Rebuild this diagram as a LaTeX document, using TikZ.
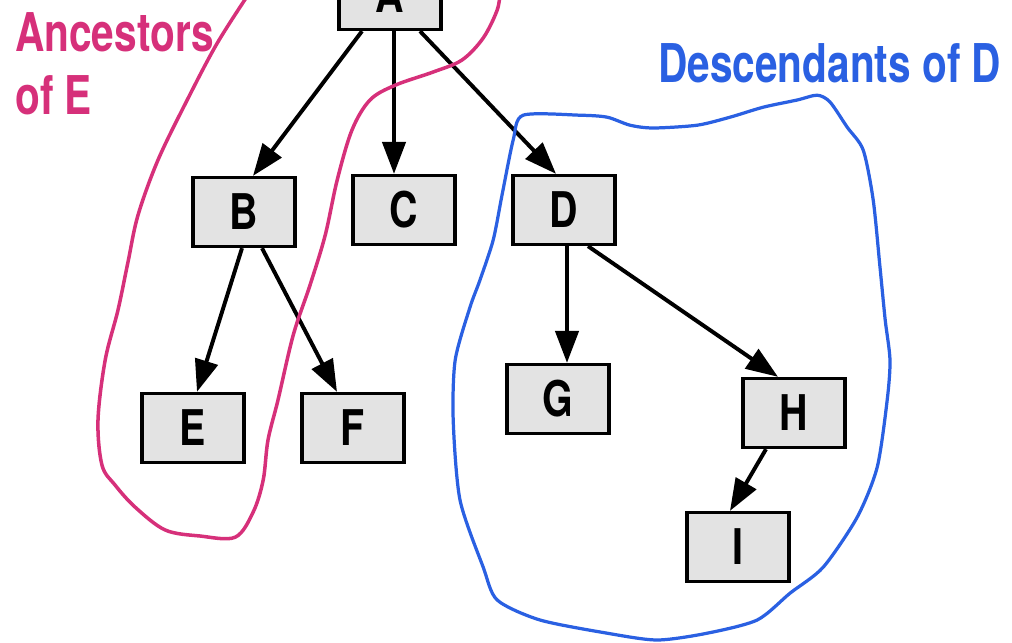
\documentclass[tikz,border=0pt]{standalone}
\usepackage{fontspec}
\usepackage{tikz}
\usepackage{xcolor}
\usetikzlibrary{positioning}
\usetikzlibrary{arrows.meta}
\newfontfamily\treefont{TeX Gyre Heros}[FakeStretch=0.8]
\newfontfamily\labelfont{TeX Gyre Heros}[FakeStretch=0.76]
\definecolor{nodegray}{RGB}{227,227,227}
\definecolor{ancestorpink}{RGB}{214,48,122}
\definecolor{descendantblue}{RGB}{42,96,226}
\tikzstyle{treenode} = [rectangle, minimum width=2.55cm, minimum height=1.72cm, text centered, line width=2.5pt, draw=black, fill=nodegray, font=\fontsize{35}{40}\treefont\bfseries]
\tikzstyle{arrow} = [line width=2.8pt, -{Triangle[length=0.8cm, width=0.58cm]}]
\tikzstyle{ancestorline} = [draw=ancestorpink, line width=2.5pt]
\tikzstyle{descendantline} = [draw=descendantblue, line width=2.3pt]
\tikzstyle{grouplabel} = [anchor=north west, inner sep=0pt, align=left, font=\fontsize{38}{45}\labelfont\bfseries]

\begin{document}
\begin{tikzpicture}[node distance=4cm]
        \useasboundingbox (0,0) rectangle (25.3,-16.075);
        \node (node_a) [treenode] at (9.75,0.125) {A};
        \node (node_b) [treenode, below of=node_a, yshift=-1.425cm, xshift=-3.65cm] {B};
        \node (node_c) [treenode, right of=node_b, yshift=0.05cm] {C};
        \node (node_d) [treenode, right of=node_c] {D};
        \node (node_e) [treenode, below of=node_b, yshift=-1.4cm, xshift=-1.275cm] {E};
        \node (node_f) [treenode, right of=node_e] {F};
        \node (node_g) [treenode, below of=node_d, yshift=-0.725cm, xshift=-0.15cm] {G};
        \node (node_h) [treenode, right of=node_g, yshift=-0.35cm, xshift=1.9cm] {H};
        \node (node_i) [treenode, below of=node_h, yshift=0.65cm, xshift=-1.4cm] {I};

        \draw [arrow] ([xshift=-0.7cm]node_a.south) -- ([xshift=0.225cm]node_b.north);
        \draw [arrow] ([xshift=0.1cm]node_a.south) -- ([xshift=-0.25cm]node_c.north);
        \draw [arrow] ([xshift=0.75cm]node_a.south) -- ([xshift=-0.2cm]node_d.north);
        \draw [arrow] ([xshift=-0.05cm]node_b.south) -- ([xshift=0.1cm]node_e.north);
        \draw [arrow] ([xshift=0.45cm]node_b.south) -- ([xshift=-0.4cm]node_f.north);
        \draw [arrow] ([xshift=0.075cm]node_d.south) -- ([xshift=0.225cm]node_g.north);
        \draw [arrow] ([xshift=0.6cm]node_d.south) -- ([xshift=-0.4cm]node_h.north);
        \draw [arrow] ([xshift=-0.7cm]node_h.south) -- ([xshift=-0.2cm]node_i.north);

        % loop round the ancestors of E, open above the top edge
        \draw [ancestorline] plot [smooth, tension=0.55] coordinates {(6.25,0.2) (5.43,-1.08) (4.68,-2.5) (3.95,-4) (3.45,-5.38) (3.2,-6.55) (2.95,-7.75) (2.63,-9) (2.45,-10.5) (2.55,-11.63) (2.88,-12.13) (3.38,-12.68) (4.13,-13.25) (5,-13.4) (5.88,-13.43) (6.33,-12.8) (6.58,-12) (6.7,-11) (6.95,-10) (7.33,-8.38) (7.75,-7.13) (8.13,-5.88) (8.43,-4.5) (8.8,-3.25) (9.25,-2.5) (9.88,-2.13) (10.83,-1.8) (11.55,-1.5) (12.08,-0.95) (12.43,-0.25) (12.5,0.2)};
        % loop round the descendants of D
        \draw [descendantline] plot [smooth cycle, tension=0.45] coordinates {(13.08,-2.88) (14.5,-2.88) (15.18,-2.93) (15.75,-3.13) (16.33,-3.2) (17.43,-3.13) (18.25,-2.93) (19.08,-2.68) (19.93,-2.5) (20.43,-2.38) (20.75,-2.55) (21.18,-3.18) (21.58,-3.75) (21.83,-5) (22,-6.68) (22.13,-8) (22.25,-9) (22.18,-10) (21.93,-11.68) (21.43,-12.93) (20.58,-14.18) (19.75,-14.83) (18.93,-15.5) (17.68,-15.83) (16.43,-16) (15.18,-15.83) (13.5,-15.5) (12.43,-15) (12.08,-14.18) (11.5,-12.5) (11.33,-10.5) (11.38,-9) (11.75,-7.68) (12,-7) (12.33,-6) (12.55,-4.88) (12.83,-3.5)};

        \node (label_ancestors) [grouplabel, text=ancestorpink] at (0.375,-0.3) {Ancestors\\of E};
        \node (label_descendants) [grouplabel, text=descendantblue] at (16.45,-1.075) {Descendants of D};
    \end{tikzpicture}
\end{document}
